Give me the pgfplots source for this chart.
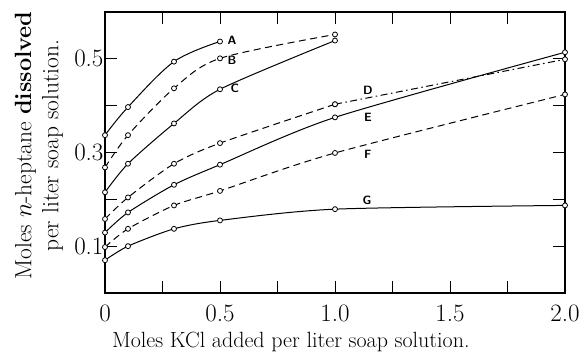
\documentclass[border=0pt]{standalone}
\usepackage{pgfplots}
\pgfplotsset{compat=1.18}
\begin{document}
\begin{tikzpicture}
\begin{axis}[
  scale only axis, width=460pt, height=281pt,
  xmin=0, xmax=2.0, ymin=0, ymax=0.6,
  xtick={0,0.25,0.5,0.75,1,1.25,1.5,1.75,2},
  xticklabels={0,,0.5,,1.0,,1.5,,2.0},
  ytick={0.1,0.2,0.3,0.4,0.5},
  yticklabels={0.1,,0.3,,0.5},
  tick align=inside, major tick length=12pt,
  tick style={line width=0.9pt, black},
  axis line style={line width=1.1pt},
  ticklabel style={font=\fontsize{25}{28}\selectfont},
  yticklabel style={xshift=2pt},
  xticklabel style={yshift=-8pt},
  xlabel={Moles KCl added per liter soap solution.},
  xlabel style={font=\fontsize{22}{26}\selectfont, at={(axis description cs:0.404,0)}, anchor=base, yshift=-55pt},
  ylabel={Moles $n$-heptane \textbf{dissolved}\\per liter soap solution.},
  ylabel style={font=\fontsize{23.5}{27}\selectfont, align=center, at={(axis description cs:-0.1435,0.525)}, anchor=center},
  clip=false,
]
\tikzset{
  crv/.style={line width=1pt, black, mark=*, mark size=2.5pt, mark options={fill=white, draw=black, solid, line width=0.8pt}},
  dsh/.style={dash pattern=on 7pt off 4.5pt},
}
% A
\addplot[crv, smooth, tension=0.55] coordinates {(0,0.337)(0.1,0.397)(0.3,0.494)(0.5,0.537)};
% B
\addplot[crv, dsh, smooth, tension=0.5] coordinates {(0,0.268)(0.1,0.337)(0.3,0.437)(0.5,0.501)(1.0,0.552)};
% C
\addplot[crv, smooth, tension=0.45] coordinates {(0,0.215)(0.1,0.276)(0.3,0.362)(0.5,0.435)(1.0,0.539)};
% D
\addplot[crv, dsh, smooth, tension=0.45] coordinates {(0,0.158)(0.1,0.204)(0.3,0.276)(0.5,0.320)(1.0,0.403)};
\addplot[line width=1pt, black, dash pattern=on 7pt off 3.5pt on 1.5pt off 3.5pt] coordinates {(1.0,0.403)(2.0,0.499)};
\addplot[crv, only marks] coordinates {(1.0,0.403)(2.0,0.499)};
% E
\addplot[crv, smooth, tension=0.45] coordinates {(0,0.129)(0.1,0.172)(0.3,0.231)(0.5,0.274)(1.0,0.375)(2.0,0.514)};
% F
\addplot[crv, dsh, smooth, tension=0.45] coordinates {(0,0.098)(0.1,0.137)(0.3,0.187)(0.5,0.218)(1.0,0.299)(2.0,0.424)};
% G
\addplot[crv, smooth, tension=0.45] coordinates {(0,0.070)(0.1,0.100)(0.3,0.137)(0.5,0.155)(1.0,0.179)(2.0,0.187)};
\begin{scope}[every node/.style={font=\fontsize{12}{12}\sffamily\bfseries, inner sep=0pt}]
\node at (axis cs:0.552,0.539) {A};
\node at (axis cs:0.552,0.496) {B};
\node at (axis cs:0.565,0.437) {C};
\node at (axis cs:1.143,0.433) {D};
\node at (axis cs:1.143,0.376) {E};
\node at (axis cs:1.143,0.297) {F};
\node at (axis cs:1.139,0.197) {G};
\end{scope}
\end{axis}
\pgfresetboundingbox
\path (current axis.south west) ++(-105pt,-60pt) coordinate (bbsw);
\path (current axis.north east) ++(19pt,12pt) coordinate (bbne);
\useasboundingbox (bbsw) rectangle (bbne);
\end{tikzpicture}
\end{document}
